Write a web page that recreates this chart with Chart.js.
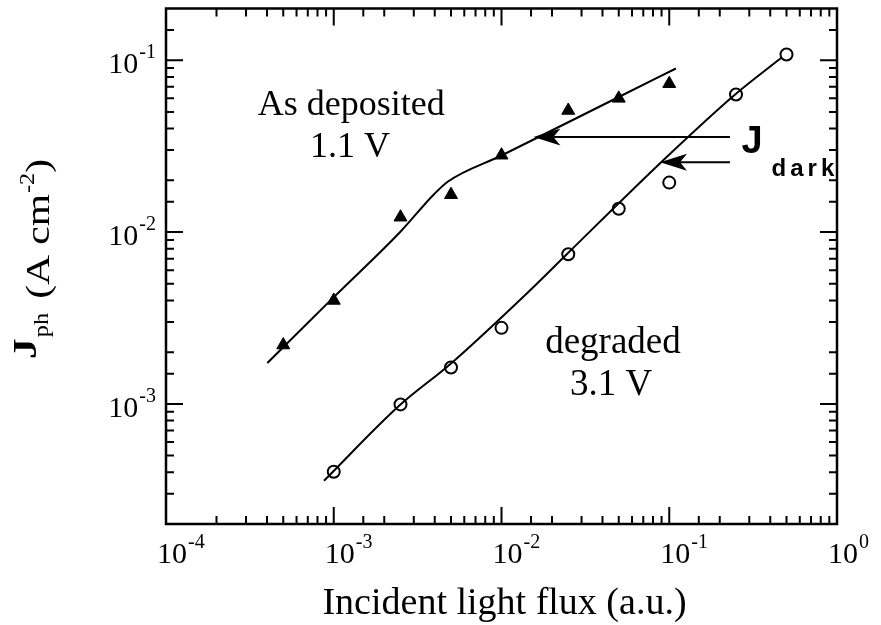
<!DOCTYPE html>
<html>
<head>
<meta charset="utf-8">
<script src="https://cdn.jsdelivr.net/npm/chart.js@4/dist/chart.umd.min.js"></script>
<style>
  html, body { margin: 0; padding: 0; background: #fff; }
  canvas { display: block; }
</style>
</head>
<body>
<canvas id="c" width="881" height="625"></canvas>
<script>
// Photocurrent density vs incident light flux, log-log
const xTickPowers = [-4, -3, -2, -1, 0];
const yTickPowers = [-3, -2, -1];

// As deposited (1.1 V) measurements
const depositedFlux = [5e-4, 1e-3, 2.5e-3, 5e-3, 1e-2, 2.5e-2, 5e-2, 1e-1];
const depositedJph  = [2.2e-3, 4.0e-3, 1.22e-2, 1.65e-2, 2.8e-2, 5.1e-2, 6.0e-2, 7.3e-2];

// Degraded (3.1 V) measurements
const degradedFlux = [1e-3, 2.5e-3, 5e-3, 1e-2, 2.5e-2, 5e-2, 1e-1, 2.5e-1, 5e-1];
const degradedJph  = [4.03e-4, 9.93e-4, 1.63e-3, 2.77e-3, 7.43e-3, 1.368e-2, 1.94e-2, 6.32e-2, 0.108];

// Fitted curves
const depositedFitFlux = [4.02e-4, 1.0e-3, 2.48e-3, 3.96e-3, 4.8e-3, 1e-2, 5e-2, 0.1096];
const depositedFitJph  = [1.73e-3, 4.18e-3, 9.97e-3, 1.66e-2, 1.97e-2, 2.79e-2, 6.11e-2, 8.95e-2];
const degradedFitFlux  = [8.75e-4, 2.48e-3, 4.9e-3, 1.42e-2, 2.45e-2, 9.18e-2, 0.247, 0.470];
const degradedFitJph   = [3.57e-4, 9.84e-4, 1.69e-3, 4.41e-3, 7.43e-3, 2.61e-2, 6.32e-2, 0.104];

// Dark current markers (arrows pointing at each curve)
const darkArrows = [
  { from: 0.23, to: 0.0155, level: 0.0357 },
  { from: 0.23, to: 0.0881, level: 0.0255 }
];

const pairs = (xs, ys) => xs.map((v, i) => ({ x: v, y: ys[i] }));

const SERIF = '"Liberation Serif", "Times New Roman", serif';
const SANS = '"Liberation Sans", Arial, sans-serif';

function drawPower(ctx, exp, x, baseY, bigSize, smallSize, align) {
  const base = '10', sup = String(exp);
  ctx.font = bigSize + 'px ' + SERIF;
  const wb = ctx.measureText(base).width;
  ctx.font = smallSize + 'px ' + SERIF;
  const ws = ctx.measureText(sup).width;
  let x0 = x;
  if (align === 'right') x0 = x - wb - ws;
  ctx.textAlign = 'left';
  ctx.textBaseline = 'alphabetic';
  ctx.font = bigSize + 'px ' + SERIF;
  ctx.fillText(base, x0, baseY);
  ctx.font = smallSize + 'px ' + SERIF;
  ctx.fillText(sup, x0 + wb + 1, baseY - 15);
}

function arrow(ctx, x1, x2, y) {
  // shaft from x1 to x2, barbed head at x2 pointing left
  const len = 27, half = 8.5, notch = 7;
  ctx.beginPath();
  ctx.moveTo(x1, y);
  ctx.lineTo(x2 + len - notch, y);
  ctx.stroke();
  ctx.beginPath();
  ctx.moveTo(x2, y);
  ctx.lineTo(x2 + len, y - half);
  ctx.lineTo(x2 + len - notch, y);
  ctx.lineTo(x2 + len, y + half);
  ctx.closePath();
  ctx.fill();
}

// text piece drawn along a rotated baseline, stretched along the reading direction
function piece(ctx, text, font, s, base, stretch) {
  ctx.font = font;
  ctx.save();
  ctx.translate(s, base);
  ctx.scale(stretch, 1);
  ctx.fillText(text, 0, 0);
  ctx.restore();
  return ctx.measureText(text).width * stretch;
}

const decorations = {
  id: 'decorations',
  afterDatasetsDraw(chart) {
    const { ctx, chartArea: a, scales: { x, y } } = chart;
    ctx.save();
    ctx.fillStyle = '#000';
    ctx.strokeStyle = '#000';

    // curve labels
    ctx.textAlign = 'center';
    ctx.textBaseline = 'alphabetic';
    ctx.font = '36px ' + SERIF;
    ctx.fillText('As deposited', x.getPixelForValue(1.27e-3), y.getPixelForValue(0.0478));
    ctx.fillText('1.1 V', x.getPixelForValue(1.25e-3), y.getPixelForValue(0.0272));
    ctx.font = '37px ' + SERIF;
    ctx.fillText('degraded', x.getPixelForValue(0.0462), y.getPixelForValue(1.97e-3));
    ctx.fillText('3.1 V', x.getPixelForValue(0.045), y.getPixelForValue(1.12e-3));

    // dark current arrows
    ctx.lineWidth = 2;
    darkArrows.forEach(d => {
      arrow(ctx, x.getPixelForValue(d.from), x.getPixelForValue(d.to), y.getPixelForValue(d.level));
    });
    // J_dark label
    ctx.textAlign = 'left';
    ctx.font = 'bold 38px ' + SANS;
    const jx = x.getPixelForValue(0.27), jy = y.getPixelForValue(0.0335);
    ctx.fillText('J', jx, jy + 11);
    ctx.font = 'bold 24px ' + SANS;
    let cx = jx + 30;
    for (const ch of 'dark') {
      ctx.fillText(ch, cx, jy + 34);
      cx += ctx.measureText(ch).width + 4;
    }

    // frame
    ctx.lineWidth = 2.5;
    ctx.strokeRect(a.left, a.top, a.right - a.left, a.bottom - a.top);

    // inward ticks on all four sides
    const isMajor = v => Math.abs(Math.log10(v) - Math.round(Math.log10(v))) < 1e-6;
    ctx.lineWidth = 2;
    ctx.beginPath();
    x.ticks.forEach(t => {
      const px = x.getPixelForValue(t.value);
      if (px <= a.left + 1 || px >= a.right - 1) return;
      const len = isMajor(t.value) ? 17 : 8;
      ctx.moveTo(px, a.bottom); ctx.lineTo(px, a.bottom - len);
      ctx.moveTo(px, a.top); ctx.lineTo(px, a.top + len);
    });
    y.ticks.forEach(t => {
      const py = y.getPixelForValue(t.value);
      if (py <= a.top + 1 || py >= a.bottom - 1) return;
      const len = isMajor(t.value) ? 17 : 8;
      ctx.moveTo(a.left, py); ctx.lineTo(a.left + len, py);
      ctx.moveTo(a.right, py); ctx.lineTo(a.right - len, py);
    });
    ctx.stroke();

    // tick labels
    xTickPowers.forEach(p => {
      const px = x.getPixelForValue(Math.pow(10, p));
      drawPower(ctx, p, px - 9, 563, 30, 20, 'left');
    });
    yTickPowers.forEach(p => {
      const py = y.getPixelForValue(Math.pow(10, p));
      drawPower(ctx, p, a.left - 11, py + 13, 30, 20, 'right');
    });

    // x-axis title
    ctx.textAlign = 'center';
    ctx.font = '38px ' + SERIF;
    ctx.fillText('Incident light flux (a.u.)', (a.left + a.right) / 2 + 3, 614);

    // y-axis title, rotated
    ctx.save();
    ctx.rotate(-Math.PI / 2);
    ctx.textAlign = 'left';
    const st = 1.22;
    let s = -359;
    s += piece(ctx, 'J', 'bold 34px ' + SERIF, s, 36, st) + 1;
    s += piece(ctx, 'ph', '20px ' + SERIF, s, 48, st) + 14;
    s += piece(ctx, '(A cm', '34px ' + SERIF, s, 49, st) + 1;
    s += piece(ctx, '-2', '20px ' + SERIF, s, 34, st);
    piece(ctx, ')', '34px ' + SERIF, s, 49, st);
    ctx.restore();

    ctx.restore();
  }
};

new Chart(document.getElementById('c'), {
  type: 'scatter',
  data: {
    datasets: [
      {
        data: pairs(depositedFitFlux, depositedFitJph),
        showLine: true, pointRadius: 0, borderColor: '#000', borderWidth: 2,
        cubicInterpolationMode: 'monotone'
      },
      {
        data: pairs(degradedFitFlux, degradedFitJph),
        showLine: true, pointRadius: 0, borderColor: '#000', borderWidth: 2,
        cubicInterpolationMode: 'monotone'
      },
      {
        data: pairs(depositedFlux, depositedJph),
        pointStyle: 'triangle', pointRadius: 7.5,
        backgroundColor: '#000', borderColor: '#000', borderWidth: 1
      },
      {
        data: pairs(degradedFlux, degradedJph),
        pointStyle: 'circle', pointRadius: 6,
        backgroundColor: 'rgba(0,0,0,0)', borderColor: '#000', borderWidth: 2
      }
    ]
  },
  options: {
    responsive: false,
    animation: false,
    events: [],
    layout: { padding: { left: 166, right: 44, top: 8, bottom: 101 } },
    plugins: { legend: { display: false }, tooltip: { enabled: false } },
    scales: {
      x: {
        type: 'logarithmic', min: 1e-4, max: 1,
        grid: { display: false, drawTicks: false },
        border: { display: false },
        ticks: { display: false }
      },
      y: {
        type: 'logarithmic', min: 2e-4, max: 0.2,
        grid: { display: false, drawTicks: false },
        border: { display: false },
        ticks: { display: false }
      }
    }
  },
  plugins: [decorations]
});
</script>
</body>
</html>
